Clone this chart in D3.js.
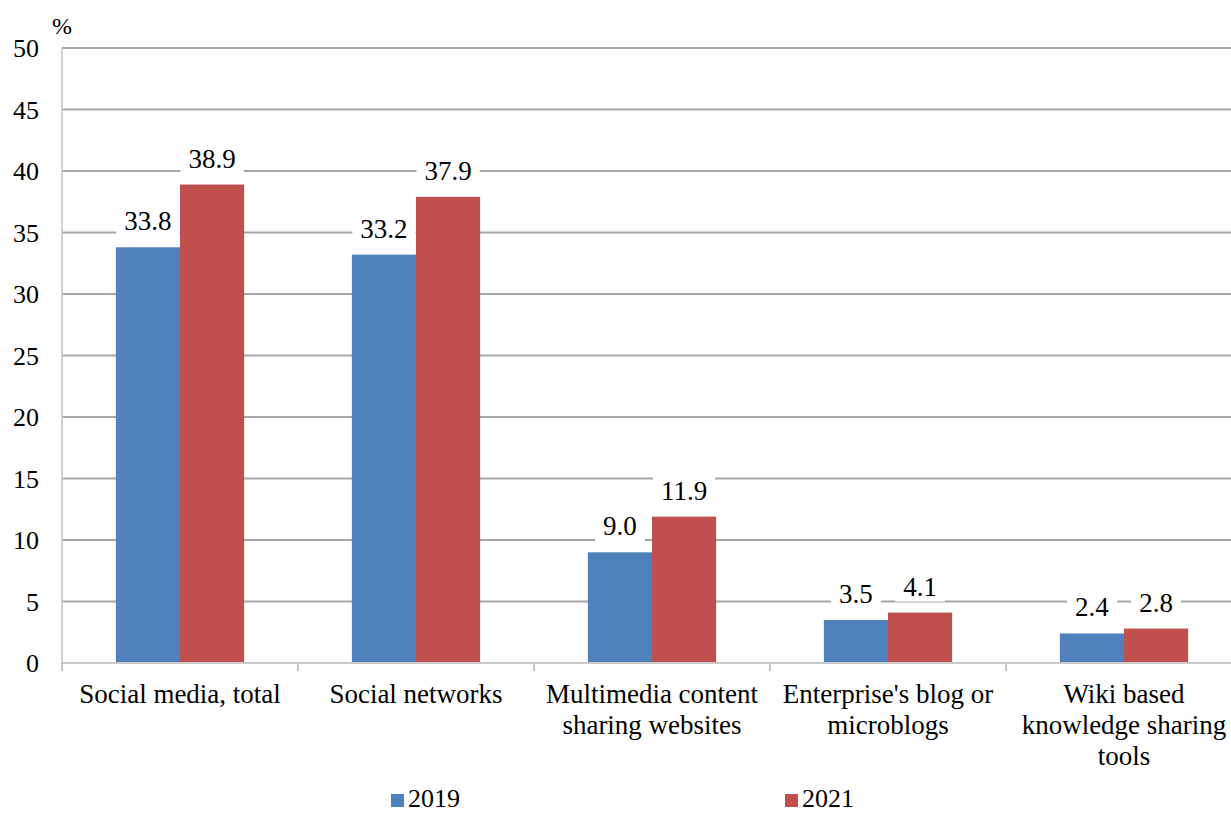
<!DOCTYPE html>
<html>
<head>
<meta charset="utf-8">
<script src="https://cdn.jsdelivr.net/npm/d3@7"></script>
<style>
  body { margin: 0; background: #fff; }
  svg text { font-family: "Liberation Serif", Tinos, "Times New Roman", Times, "DejaVu Serif", serif; fill: #000; }
</style>
</head>
<body>
<svg id="chart" width="1231" height="814"></svg>
<script>
// chart data
const categories = [
  ["Social media, total"],
  ["Social networks"],
  ["Multimedia content", "sharing websites"],
  ["Enterprise's blog or", "microblogs"],
  ["Wiki based", "knowledge sharing", "tools"]
];
const seriesNames = ["2019", "2021"];
const values2019 = [33.8, 33.2, 9.0, 3.5, 2.4];
const values2021 = [38.9, 37.9, 11.9, 4.1, 2.8];
const yTicks = [0, 5, 10, 15, 20, 25, 30, 35, 40, 45, 50];
const colors = ["#4f81bd", "#c0504d"];

const svg = d3.select("#chart");
const plotLeft = 62, plotRight = 1242, plotTop = 48, plotBottom = 663;
const fontSize = 27;

const x = d3.scaleBand()
  .domain(d3.range(categories.length))
  .range([plotLeft, plotRight]);
const xs = d3.scaleBand()
  .domain(seriesNames)
  .range([0, x.bandwidth()])
  .paddingOuter(0.84)
  .paddingInner(0);
const y = d3.scaleLinear().domain([0, 50]).range([plotBottom, plotTop]);

// gridlines
svg.append("g")
  .selectAll("line")
  .data(yTicks.filter(d => d > 0))
  .enter().append("line")
  .attr("x1", plotLeft).attr("x2", 1231)
  .attr("y1", d => y(d)).attr("y2", d => y(d))
  .attr("stroke", "#a6a6a6")
  .attr("stroke-width", 2);

// y axis line
svg.append("line")
  .attr("x1", plotLeft).attr("x2", plotLeft)
  .attr("y1", plotTop).attr("y2", plotBottom)
  .attr("stroke", "#d0d0d0").attr("stroke-width", 2);

// y tick labels
svg.append("g")
  .selectAll("text")
  .data(yTicks)
  .enter().append("text")
  .attr("x", 39)
  .attr("y", d => y(d))
  .attr("dy", "0.35em")
  .attr("text-anchor", "end")
  .style("font-size", "26px")
  .text(d => d);

svg.append("text")
  .attr("x", 52).attr("y", 34)
  .style("font-size", "24px")
  .text("%");

// bars
const data = categories.map((c, i) => ({ i: i, vals: [values2019[i], values2021[i]] }));
const groups = svg.append("g")
  .selectAll("g")
  .data(data)
  .enter().append("g")
  .attr("transform", d => "translate(" + x(d.i) + ",0)");

groups.selectAll("rect")
  .data(d => d.vals.map((v, k) => ({ v: v, s: seriesNames[k], k: k })))
  .enter().append("rect")
  .attr("x", d => xs(d.s))
  .attr("width", xs.bandwidth())
  .attr("y", d => y(d.v))
  .attr("height", d => y(0) - y(d.v))
  .attr("fill", d => colors[d.k]);

// x axis line and ticks
svg.append("line")
  .attr("x1", plotLeft).attr("x2", 1231)
  .attr("y1", plotBottom).attr("y2", plotBottom)
  .attr("stroke", "#c8c8c8").attr("stroke-width", 2);
svg.append("g")
  .selectAll("line")
  .data(d3.range(categories.length + 1))
  .enter().append("line")
  .attr("x1", d => plotLeft + d * x.bandwidth())
  .attr("x2", d => plotLeft + d * x.bandwidth())
  .attr("y1", plotBottom).attr("y2", plotBottom + 8)
  .attr("stroke", "#c8c8c8").attr("stroke-width", 2);

// value labels with white backing
const labels = groups.selectAll("g.lbl")
  .data(d => d.vals.map((v, k) => ({ v: v, s: seriesNames[k], k: k })))
  .enter().append("g")
  .attr("class", "lbl");
labels.append("rect").attr("fill", "#fff");
labels.append("text")
  .attr("x", d => xs(d.s) + xs.bandwidth() / 2)
  .attr("y", d => y(d.v) - 17)
  .attr("text-anchor", "middle")
  .style("font-size", fontSize + "px")
  .text(d => d.v.toFixed(1));
labels.each(function () {
  const g = d3.select(this);
  const bb = g.select("text").node().getBBox();
  g.select("rect")
    .attr("x", bb.x - 8).attr("y", bb.y)
    .attr("width", bb.width + 16).attr("height", bb.height);
});

// category labels
svg.append("g")
  .selectAll("text")
  .data(categories)
  .enter().append("text")
  .attr("x", (d, i) => x(i) + x.bandwidth() / 2)
  .attr("y", 703)
  .attr("text-anchor", "middle")
  .style("font-size", fontSize + "px")
  .each(function (d) {
    const cx = d3.select(this).attr("x");
    d3.select(this).selectAll("tspan")
      .data(d)
      .enter().append("tspan")
      .attr("x", cx)
      .attr("dy", (t, j) => j === 0 ? 0 : 31)
      .text(t => t);
  });

// legend
const legendX = [391, 785];
const legend = svg.append("g")
  .selectAll("g")
  .data(seriesNames)
  .enter().append("g")
  .attr("transform", (d, i) => "translate(" + legendX[i] + ",0)");
legend.append("rect")
  .attr("x", 0).attr("y", 794)
  .attr("width", 13).attr("height", 13)
  .attr("fill", (d, i) => colors[i]);
legend.append("text")
  .attr("x", 17).attr("y", 807)
  .style("font-size", "26px")
  .text(d => d);
</script>
</body>
</html>
